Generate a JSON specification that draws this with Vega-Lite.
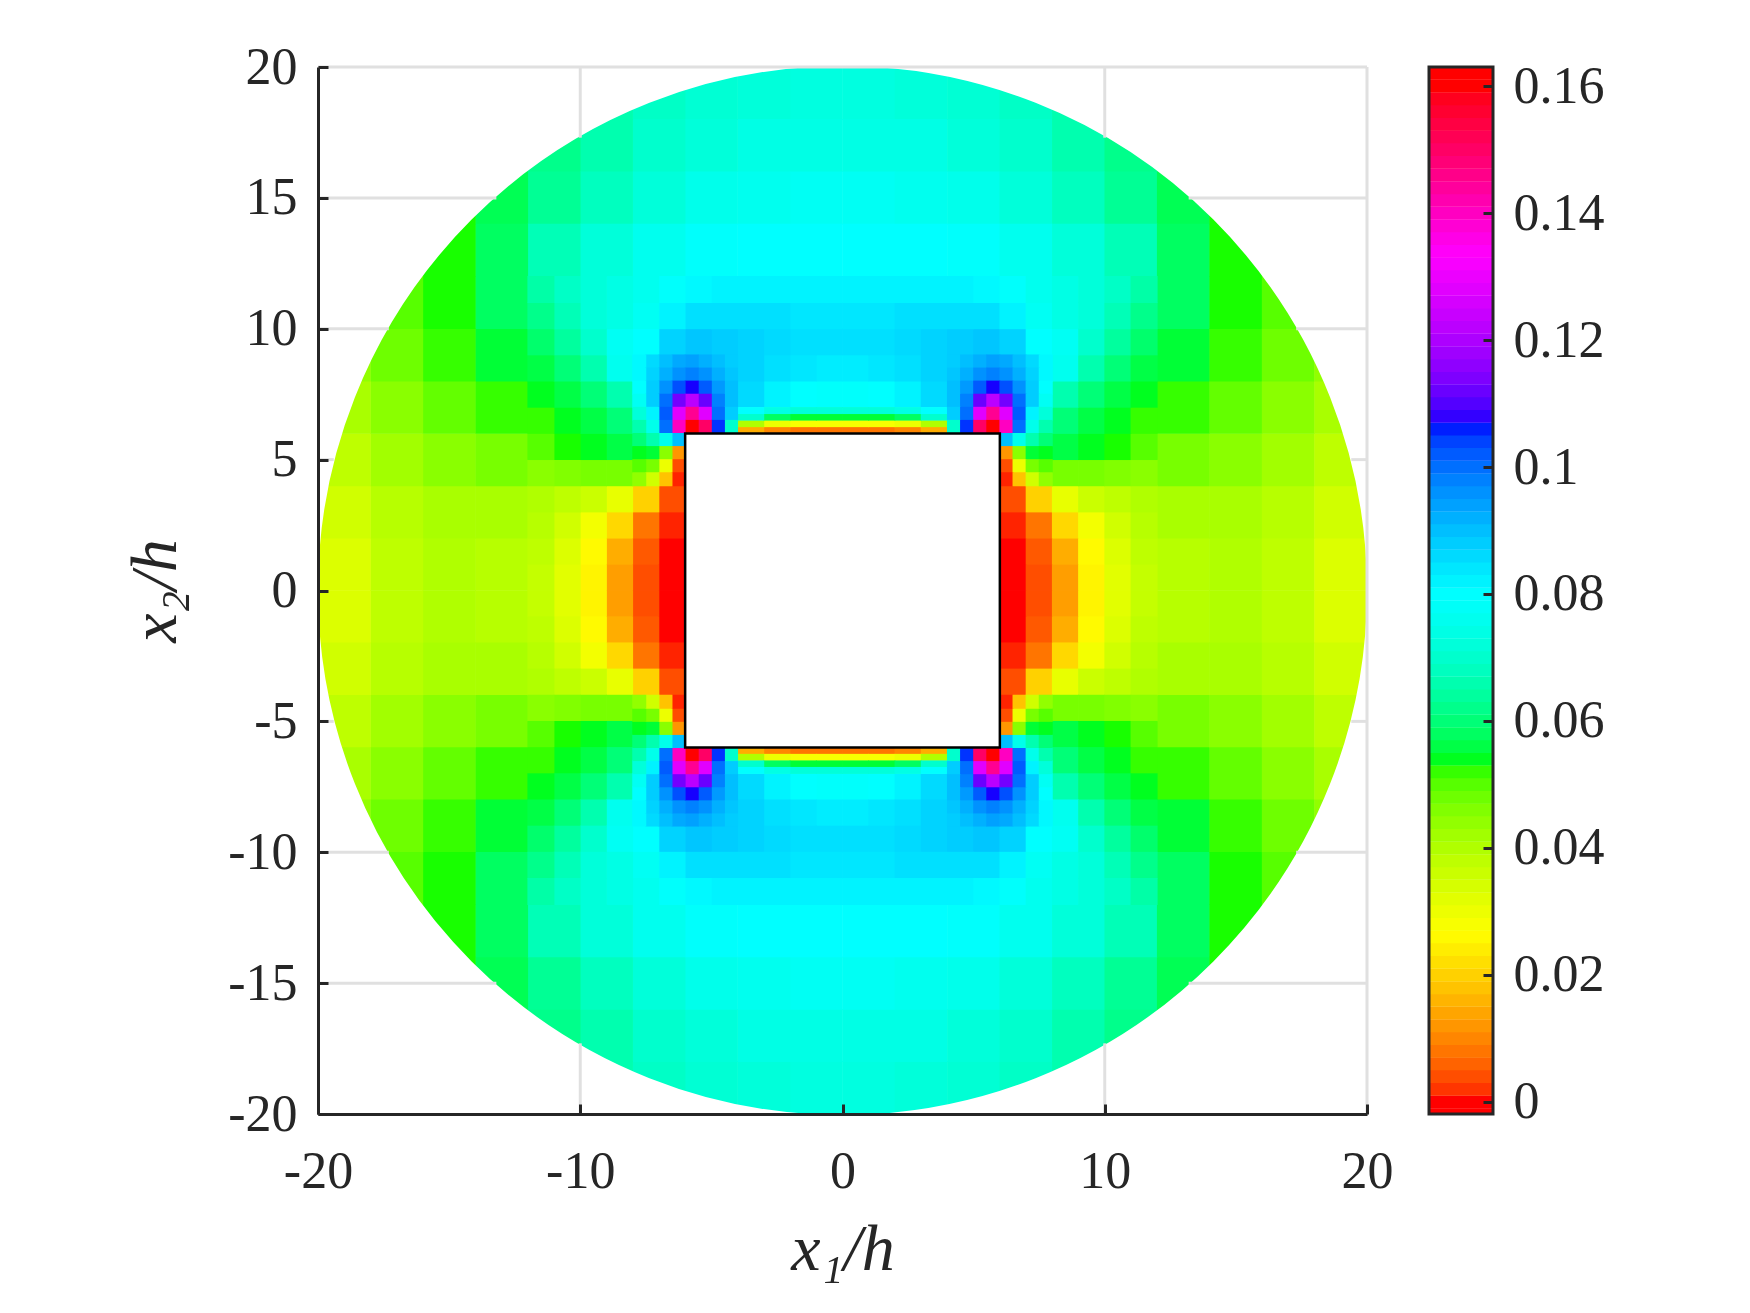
{"$schema":"https://vega.github.io/schema/vega-lite/v6.json","background":"white","padding":{"left":122,"top":40,"right":10,"bottom":10},"bounds":"flush","spacing":62,"config":{"axis":{"labelFont":"Liberation Serif","labelFontSize":52,"labelColor":"#262626","titleFont":"Liberation Serif","titleFontSize":66,"titleFontStyle":"italic","titleFontWeight":"normal","titleColor":"#262626","domainColor":"#262626","domainWidth":3,"tickColor":"#262626","tickWidth":3,"tickSize":-10,"grid":false}},"datasets":{"r":[{"x":0,"y":0}],"s":[{"x":-6,"x2":6,"y":-6,"y2":6}],"k":[{"v":-0.0019,"v2":0.163}],"g":[{"x":-20,"x2":20,"y":20,"y2":20},{"x":20,"x2":20,"y":-20,"y2":20},{"x":-10,"x2":-10,"y":17.3,"y2":20},{"x":-10,"x2":-10,"y":-20,"y2":-17.3},{"x":10,"x2":10,"y":17.3,"y2":20},{"x":10,"x2":10,"y":-20,"y2":-17.3},{"x":-20,"x2":-13.2,"y":15,"y2":15},{"x":13.2,"x2":20,"y":15,"y2":15},{"x":-20,"x2":-13.2,"y":-15,"y2":-15},{"x":13.2,"x2":20,"y":-15,"y2":-15},{"x":-20,"x2":-17.3,"y":10,"y2":10},{"x":17.3,"x2":20,"y":10,"y2":10},{"x":-20,"x2":-17.3,"y":-10,"y2":-10},{"x":17.3,"x2":20,"y":-10,"y2":-10},{"x":-20,"x2":-19.4,"y":5,"y2":5},{"x":19.4,"x2":20,"y":5,"y2":5},{"x":-20,"x2":-19.4,"y":-5,"y2":-5},{"x":19.4,"x2":20,"y":-5,"y2":-5}],
"b":[
{"x":1,"y":19,"v":0.073},{"x":3,"y":19,"v":0.072},{"x":5,"y":19,"v":0.071},{"x":7,"y":19,"v":0.069},{"x":9,"y":19,"v":0.066},{"x":1,"y":17,"v":0.074},{"x":3,"y":17,"v":0.074},{"x":5,"y":17,"v":0.072},{"x":7,"y":17,"v":0.07},{"x":9,"y":17,"v":0.066},{"x":11,"y":17,"v":0.062},{"x":13,"y":17,"v":0.059},{"x":1,"y":15,"v":0.077},{"x":3,"y":15,"v":0.076},{"x":5,"y":15,"v":0.075},{"x":7,"y":15,"v":0.072},{"x":9,"y":15,"v":0.068},{"x":11,"y":15,"v":0.063},{"x":13,"y":15,"v":0.057},{"x":15,"y":15,"v":0.053},{"x":1,"y":13,"v":0.08},{"x":3,"y":13,"v":0.08},{"x":5,"y":13,"v":0.079},{"x":7,"y":13,"v":0.076},{"x":9,"y":13,"v":0.072},{"x":11,"y":13,"v":0.067},{"x":13,"y":13,"v":0.058},{"x":15,"y":13,"v":0.053},{"x":17,"y":13,"v":0.05},{"x":13,"y":1,"v":0.039},{"x":13,"y":3,"v":0.041},{"x":13,"y":5,"v":0.047},{"x":13,"y":7,"v":0.052},{"x":13,"y":9,"v":0.055},{"x":13,"y":11,"v":0.058},{"x":15,"y":1,"v":0.04},{"x":15,"y":3,"v":0.041},{"x":15,"y":5,"v":0.045},{"x":15,"y":7,"v":0.049},{"x":15,"y":9,"v":0.052},{"x":15,"y":11,"v":0.053},{"x":17,"y":1,"v":0.038},{"x":17,"y":3,"v":0.039},{"x":17,"y":5,"v":0.042},{"x":17,"y":7,"v":0.045},{"x":17,"y":9,"v":0.048},{"x":17,"y":11,"v":0.05},{"x":19,"y":1,"v":0.033},{"x":19,"y":3,"v":0.035},{"x":19,"y":5,"v":0.038},{"x":19,"y":7,"v":0.041},{"x":19,"y":9,"v":0.044},
{"x":-1,"y":19,"v":0.073},{"x":-3,"y":19,"v":0.072},{"x":-5,"y":19,"v":0.071},{"x":-7,"y":19,"v":0.069},{"x":-9,"y":19,"v":0.066},{"x":-1,"y":17,"v":0.074},{"x":-3,"y":17,"v":0.074},{"x":-5,"y":17,"v":0.072},{"x":-7,"y":17,"v":0.07},{"x":-9,"y":17,"v":0.066},{"x":-11,"y":17,"v":0.062},{"x":-13,"y":17,"v":0.059},{"x":-1,"y":15,"v":0.077},{"x":-3,"y":15,"v":0.076},{"x":-5,"y":15,"v":0.075},{"x":-7,"y":15,"v":0.072},{"x":-9,"y":15,"v":0.068},{"x":-11,"y":15,"v":0.063},{"x":-13,"y":15,"v":0.057},{"x":-15,"y":15,"v":0.053},{"x":-1,"y":13,"v":0.08},{"x":-3,"y":13,"v":0.08},{"x":-5,"y":13,"v":0.079},{"x":-7,"y":13,"v":0.076},{"x":-9,"y":13,"v":0.072},{"x":-11,"y":13,"v":0.067},{"x":-13,"y":13,"v":0.058},{"x":-15,"y":13,"v":0.053},{"x":-17,"y":13,"v":0.05},{"x":-13,"y":1,"v":0.039},{"x":-13,"y":3,"v":0.041},{"x":-13,"y":5,"v":0.047},{"x":-13,"y":7,"v":0.052},{"x":-13,"y":9,"v":0.055},{"x":-13,"y":11,"v":0.058},{"x":-15,"y":1,"v":0.04},{"x":-15,"y":3,"v":0.041},{"x":-15,"y":5,"v":0.045},{"x":-15,"y":7,"v":0.049},{"x":-15,"y":9,"v":0.052},{"x":-15,"y":11,"v":0.053},{"x":-17,"y":1,"v":0.038},{"x":-17,"y":3,"v":0.039},{"x":-17,"y":5,"v":0.042},{"x":-17,"y":7,"v":0.045},{"x":-17,"y":9,"v":0.048},{"x":-17,"y":11,"v":0.05},{"x":-19,"y":1,"v":0.033},{"x":-19,"y":3,"v":0.035},{"x":-19,"y":5,"v":0.038},{"x":-19,"y":7,"v":0.041},{"x":-19,"y":9,"v":0.044},
{"x":1,"y":-19,"v":0.073},{"x":3,"y":-19,"v":0.072},{"x":5,"y":-19,"v":0.071},{"x":7,"y":-19,"v":0.069},{"x":9,"y":-19,"v":0.066},{"x":1,"y":-17,"v":0.074},{"x":3,"y":-17,"v":0.074},{"x":5,"y":-17,"v":0.072},{"x":7,"y":-17,"v":0.07},{"x":9,"y":-17,"v":0.066},{"x":11,"y":-17,"v":0.062},{"x":13,"y":-17,"v":0.059},{"x":1,"y":-15,"v":0.077},{"x":3,"y":-15,"v":0.076},{"x":5,"y":-15,"v":0.075},{"x":7,"y":-15,"v":0.072},{"x":9,"y":-15,"v":0.068},{"x":11,"y":-15,"v":0.063},{"x":13,"y":-15,"v":0.057},{"x":15,"y":-15,"v":0.053},{"x":1,"y":-13,"v":0.08},{"x":3,"y":-13,"v":0.08},{"x":5,"y":-13,"v":0.079},{"x":7,"y":-13,"v":0.076},{"x":9,"y":-13,"v":0.072},{"x":11,"y":-13,"v":0.067},{"x":13,"y":-13,"v":0.058},{"x":15,"y":-13,"v":0.053},{"x":17,"y":-13,"v":0.05},{"x":13,"y":-1,"v":0.039},{"x":13,"y":-3,"v":0.041},{"x":13,"y":-5,"v":0.047},{"x":13,"y":-7,"v":0.052},{"x":13,"y":-9,"v":0.055},{"x":13,"y":-11,"v":0.058},{"x":15,"y":-1,"v":0.04},{"x":15,"y":-3,"v":0.041},{"x":15,"y":-5,"v":0.045},{"x":15,"y":-7,"v":0.049},{"x":15,"y":-9,"v":0.052},{"x":15,"y":-11,"v":0.053},{"x":17,"y":-1,"v":0.038},{"x":17,"y":-3,"v":0.039},{"x":17,"y":-5,"v":0.042},{"x":17,"y":-7,"v":0.045},{"x":17,"y":-9,"v":0.048},{"x":17,"y":-11,"v":0.05},{"x":19,"y":-1,"v":0.033},{"x":19,"y":-3,"v":0.035},{"x":19,"y":-5,"v":0.038},{"x":19,"y":-7,"v":0.041},{"x":19,"y":-9,"v":0.044},
{"x":-1,"y":-19,"v":0.073},{"x":-3,"y":-19,"v":0.072},{"x":-5,"y":-19,"v":0.071},{"x":-7,"y":-19,"v":0.069},{"x":-9,"y":-19,"v":0.066},{"x":-1,"y":-17,"v":0.074},{"x":-3,"y":-17,"v":0.074},{"x":-5,"y":-17,"v":0.072},{"x":-7,"y":-17,"v":0.07},{"x":-9,"y":-17,"v":0.066},{"x":-11,"y":-17,"v":0.062},{"x":-13,"y":-17,"v":0.059},{"x":-1,"y":-15,"v":0.077},{"x":-3,"y":-15,"v":0.076},{"x":-5,"y":-15,"v":0.075},{"x":-7,"y":-15,"v":0.072},{"x":-9,"y":-15,"v":0.068},{"x":-11,"y":-15,"v":0.063},{"x":-13,"y":-15,"v":0.057},{"x":-15,"y":-15,"v":0.053},{"x":-1,"y":-13,"v":0.08},{"x":-3,"y":-13,"v":0.08},{"x":-5,"y":-13,"v":0.079},{"x":-7,"y":-13,"v":0.076},{"x":-9,"y":-13,"v":0.072},{"x":-11,"y":-13,"v":0.067},{"x":-13,"y":-13,"v":0.058},{"x":-15,"y":-13,"v":0.053},{"x":-17,"y":-13,"v":0.05},{"x":-13,"y":-1,"v":0.039},{"x":-13,"y":-3,"v":0.041},{"x":-13,"y":-5,"v":0.047},{"x":-13,"y":-7,"v":0.052},{"x":-13,"y":-9,"v":0.055},{"x":-13,"y":-11,"v":0.058},{"x":-15,"y":-1,"v":0.04},{"x":-15,"y":-3,"v":0.041},{"x":-15,"y":-5,"v":0.045},{"x":-15,"y":-7,"v":0.049},{"x":-15,"y":-9,"v":0.052},{"x":-15,"y":-11,"v":0.053},{"x":-17,"y":-1,"v":0.038},{"x":-17,"y":-3,"v":0.039},{"x":-17,"y":-5,"v":0.042},{"x":-17,"y":-7,"v":0.045},{"x":-17,"y":-9,"v":0.048},{"x":-17,"y":-11,"v":0.05},{"x":-19,"y":-1,"v":0.033},{"x":-19,"y":-3,"v":0.035},{"x":-19,"y":-5,"v":0.038},{"x":-19,"y":-7,"v":0.041},{"x":-19,"y":-9,"v":0.044}],
"a":[
{"x":6.5,"y":0.5,"v":0},{"x":7.5,"y":0.5,"v":0.004},{"x":8.5,"y":0.5,"v":0.013},{"x":9.5,"y":0.5,"v":0.025},{"x":10.5,"y":0.5,"v":0.032},{"x":11.5,"y":0.5,"v":0.037},{"x":6.5,"y":1.5,"v":0},{"x":7.5,"y":1.5,"v":0.005},{"x":8.5,"y":1.5,"v":0.015},{"x":9.5,"y":1.5,"v":0.026},{"x":10.5,"y":1.5,"v":0.033},{"x":11.5,"y":1.5,"v":0.038},{"x":6.5,"y":2.5,"v":0.001},{"x":7.5,"y":2.5,"v":0.008},{"x":8.5,"y":2.5,"v":0.021},{"x":9.5,"y":2.5,"v":0.029},{"x":10.5,"y":2.5,"v":0.035},{"x":11.5,"y":2.5,"v":0.039},{"x":6.5,"y":3.5,"v":0.004},{"x":7.5,"y":3.5,"v":0.02},{"x":8.5,"y":3.5,"v":0.031},{"x":9.5,"y":3.5,"v":0.036},{"x":10.5,"y":3.5,"v":0.038},{"x":11.5,"y":3.5,"v":0.04},{"x":8.5,"y":4.5,"v":0.047},{"x":9.5,"y":4.5,"v":0.047},{"x":10.5,"y":4.5,"v":0.046},{"x":11.5,"y":4.5,"v":0.045},{"x":8.5,"y":5.5,"v":0.056},{"x":9.5,"y":5.5,"v":0.054},{"x":10.5,"y":5.5,"v":0.053},{"x":11.5,"y":5.5,"v":0.05},{"x":8.5,"y":6.5,"v":0.06},{"x":9.5,"y":6.5,"v":0.056},{"x":10.5,"y":6.5,"v":0.054},{"x":11.5,"y":6.5,"v":0.052},{"x":0.5,"y":7.5,"v":0.079},{"x":1.5,"y":7.5,"v":0.08},{"x":2.5,"y":7.5,"v":0.082},{"x":3.5,"y":7.5,"v":0.086},{"x":8.5,"y":7.5,"v":0.066},{"x":9.5,"y":7.5,"v":0.06},{"x":10.5,"y":7.5,"v":0.056},{"x":11.5,"y":7.5,"v":0.054},{"x":0.5,"y":8.5,"v":0.083},{"x":1.5,"y":8.5,"v":0.084},{"x":2.5,"y":8.5,"v":0.085},{"x":3.5,"y":8.5,"v":0.087},{"x":8.5,"y":8.5,"v":0.076},{"x":9.5,"y":8.5,"v":0.066},{"x":10.5,"y":8.5,"v":0.06},{"x":11.5,"y":8.5,"v":0.056},{"x":0.5,"y":9.5,"v":0.085},{"x":1.5,"y":9.5,"v":0.085},{"x":2.5,"y":9.5,"v":0.086},{"x":3.5,"y":9.5,"v":0.087},{"x":4.5,"y":9.5,"v":0.088},{"x":5.5,"y":9.5,"v":0.089},{"x":6.5,"y":9.5,"v":0.087},{"x":7.5,"y":9.5,"v":0.08},{"x":8.5,"y":9.5,"v":0.077},{"x":9.5,"y":9.5,"v":0.07},{"x":10.5,"y":9.5,"v":0.064},{"x":11.5,"y":9.5,"v":0.059},{"x":0.5,"y":10.5,"v":0.084},{"x":1.5,"y":10.5,"v":0.084},{"x":2.5,"y":10.5,"v":0.085},{"x":3.5,"y":10.5,"v":0.085},{"x":4.5,"y":10.5,"v":0.085},{"x":5.5,"y":10.5,"v":0.085},{"x":6.5,"y":10.5,"v":0.082},{"x":7.5,"y":10.5,"v":0.077},{"x":8.5,"y":10.5,"v":0.074},{"x":9.5,"y":10.5,"v":0.072},{"x":10.5,"y":10.5,"v":0.067},{"x":11.5,"y":10.5,"v":0.062},{"x":0.5,"y":11.5,"v":0.082},{"x":1.5,"y":11.5,"v":0.082},{"x":2.5,"y":11.5,"v":0.082},{"x":3.5,"y":11.5,"v":0.082},{"x":4.5,"y":11.5,"v":0.082},{"x":5.5,"y":11.5,"v":0.081},{"x":6.5,"y":11.5,"v":0.079},{"x":7.5,"y":11.5,"v":0.076},{"x":8.5,"y":11.5,"v":0.074},{"x":9.5,"y":11.5,"v":0.072},{"x":10.5,"y":11.5,"v":0.069},{"x":11.5,"y":11.5,"v":0.065},
{"x":-6.5,"y":0.5,"v":0},{"x":-7.5,"y":0.5,"v":0.004},{"x":-8.5,"y":0.5,"v":0.013},{"x":-9.5,"y":0.5,"v":0.025},{"x":-10.5,"y":0.5,"v":0.032},{"x":-11.5,"y":0.5,"v":0.037},{"x":-6.5,"y":1.5,"v":0},{"x":-7.5,"y":1.5,"v":0.005},{"x":-8.5,"y":1.5,"v":0.015},{"x":-9.5,"y":1.5,"v":0.026},{"x":-10.5,"y":1.5,"v":0.033},{"x":-11.5,"y":1.5,"v":0.038},{"x":-6.5,"y":2.5,"v":0.001},{"x":-7.5,"y":2.5,"v":0.008},{"x":-8.5,"y":2.5,"v":0.021},{"x":-9.5,"y":2.5,"v":0.029},{"x":-10.5,"y":2.5,"v":0.035},{"x":-11.5,"y":2.5,"v":0.039},{"x":-6.5,"y":3.5,"v":0.004},{"x":-7.5,"y":3.5,"v":0.02},{"x":-8.5,"y":3.5,"v":0.031},{"x":-9.5,"y":3.5,"v":0.036},{"x":-10.5,"y":3.5,"v":0.038},{"x":-11.5,"y":3.5,"v":0.04},{"x":-8.5,"y":4.5,"v":0.047},{"x":-9.5,"y":4.5,"v":0.047},{"x":-10.5,"y":4.5,"v":0.046},{"x":-11.5,"y":4.5,"v":0.045},{"x":-8.5,"y":5.5,"v":0.056},{"x":-9.5,"y":5.5,"v":0.054},{"x":-10.5,"y":5.5,"v":0.053},{"x":-11.5,"y":5.5,"v":0.05},{"x":-8.5,"y":6.5,"v":0.06},{"x":-9.5,"y":6.5,"v":0.056},{"x":-10.5,"y":6.5,"v":0.054},{"x":-11.5,"y":6.5,"v":0.052},{"x":-0.5,"y":7.5,"v":0.079},{"x":-1.5,"y":7.5,"v":0.08},{"x":-2.5,"y":7.5,"v":0.082},{"x":-3.5,"y":7.5,"v":0.086},{"x":-8.5,"y":7.5,"v":0.066},{"x":-9.5,"y":7.5,"v":0.06},{"x":-10.5,"y":7.5,"v":0.056},{"x":-11.5,"y":7.5,"v":0.054},{"x":-0.5,"y":8.5,"v":0.083},{"x":-1.5,"y":8.5,"v":0.084},{"x":-2.5,"y":8.5,"v":0.085},{"x":-3.5,"y":8.5,"v":0.087},{"x":-8.5,"y":8.5,"v":0.076},{"x":-9.5,"y":8.5,"v":0.066},{"x":-10.5,"y":8.5,"v":0.06},{"x":-11.5,"y":8.5,"v":0.056},{"x":-0.5,"y":9.5,"v":0.085},{"x":-1.5,"y":9.5,"v":0.085},{"x":-2.5,"y":9.5,"v":0.086},{"x":-3.5,"y":9.5,"v":0.087},{"x":-4.5,"y":9.5,"v":0.088},{"x":-5.5,"y":9.5,"v":0.089},{"x":-6.5,"y":9.5,"v":0.087},{"x":-7.5,"y":9.5,"v":0.08},{"x":-8.5,"y":9.5,"v":0.077},{"x":-9.5,"y":9.5,"v":0.07},{"x":-10.5,"y":9.5,"v":0.064},{"x":-11.5,"y":9.5,"v":0.059},{"x":-0.5,"y":10.5,"v":0.084},{"x":-1.5,"y":10.5,"v":0.084},{"x":-2.5,"y":10.5,"v":0.085},{"x":-3.5,"y":10.5,"v":0.085},{"x":-4.5,"y":10.5,"v":0.085},{"x":-5.5,"y":10.5,"v":0.085},{"x":-6.5,"y":10.5,"v":0.082},{"x":-7.5,"y":10.5,"v":0.077},{"x":-8.5,"y":10.5,"v":0.074},{"x":-9.5,"y":10.5,"v":0.072},{"x":-10.5,"y":10.5,"v":0.067},{"x":-11.5,"y":10.5,"v":0.062},{"x":-0.5,"y":11.5,"v":0.082},{"x":-1.5,"y":11.5,"v":0.082},{"x":-2.5,"y":11.5,"v":0.082},{"x":-3.5,"y":11.5,"v":0.082},{"x":-4.5,"y":11.5,"v":0.082},{"x":-5.5,"y":11.5,"v":0.081},{"x":-6.5,"y":11.5,"v":0.079},{"x":-7.5,"y":11.5,"v":0.076},{"x":-8.5,"y":11.5,"v":0.074},{"x":-9.5,"y":11.5,"v":0.072},{"x":-10.5,"y":11.5,"v":0.069},{"x":-11.5,"y":11.5,"v":0.065},
{"x":6.5,"y":-0.5,"v":0},{"x":7.5,"y":-0.5,"v":0.004},{"x":8.5,"y":-0.5,"v":0.013},{"x":9.5,"y":-0.5,"v":0.025},{"x":10.5,"y":-0.5,"v":0.032},{"x":11.5,"y":-0.5,"v":0.037},{"x":6.5,"y":-1.5,"v":0},{"x":7.5,"y":-1.5,"v":0.005},{"x":8.5,"y":-1.5,"v":0.015},{"x":9.5,"y":-1.5,"v":0.026},{"x":10.5,"y":-1.5,"v":0.033},{"x":11.5,"y":-1.5,"v":0.038},{"x":6.5,"y":-2.5,"v":0.001},{"x":7.5,"y":-2.5,"v":0.008},{"x":8.5,"y":-2.5,"v":0.021},{"x":9.5,"y":-2.5,"v":0.029},{"x":10.5,"y":-2.5,"v":0.035},{"x":11.5,"y":-2.5,"v":0.039},{"x":6.5,"y":-3.5,"v":0.004},{"x":7.5,"y":-3.5,"v":0.02},{"x":8.5,"y":-3.5,"v":0.031},{"x":9.5,"y":-3.5,"v":0.036},{"x":10.5,"y":-3.5,"v":0.038},{"x":11.5,"y":-3.5,"v":0.04},{"x":8.5,"y":-4.5,"v":0.047},{"x":9.5,"y":-4.5,"v":0.047},{"x":10.5,"y":-4.5,"v":0.046},{"x":11.5,"y":-4.5,"v":0.045},{"x":8.5,"y":-5.5,"v":0.056},{"x":9.5,"y":-5.5,"v":0.054},{"x":10.5,"y":-5.5,"v":0.053},{"x":11.5,"y":-5.5,"v":0.05},{"x":8.5,"y":-6.5,"v":0.06},{"x":9.5,"y":-6.5,"v":0.056},{"x":10.5,"y":-6.5,"v":0.054},{"x":11.5,"y":-6.5,"v":0.052},{"x":0.5,"y":-7.5,"v":0.079},{"x":1.5,"y":-7.5,"v":0.08},{"x":2.5,"y":-7.5,"v":0.082},{"x":3.5,"y":-7.5,"v":0.086},{"x":8.5,"y":-7.5,"v":0.066},{"x":9.5,"y":-7.5,"v":0.06},{"x":10.5,"y":-7.5,"v":0.056},{"x":11.5,"y":-7.5,"v":0.054},{"x":0.5,"y":-8.5,"v":0.083},{"x":1.5,"y":-8.5,"v":0.084},{"x":2.5,"y":-8.5,"v":0.085},{"x":3.5,"y":-8.5,"v":0.087},{"x":8.5,"y":-8.5,"v":0.076},{"x":9.5,"y":-8.5,"v":0.066},{"x":10.5,"y":-8.5,"v":0.06},{"x":11.5,"y":-8.5,"v":0.056},{"x":0.5,"y":-9.5,"v":0.085},{"x":1.5,"y":-9.5,"v":0.085},{"x":2.5,"y":-9.5,"v":0.086},{"x":3.5,"y":-9.5,"v":0.087},{"x":4.5,"y":-9.5,"v":0.088},{"x":5.5,"y":-9.5,"v":0.089},{"x":6.5,"y":-9.5,"v":0.087},{"x":7.5,"y":-9.5,"v":0.08},{"x":8.5,"y":-9.5,"v":0.077},{"x":9.5,"y":-9.5,"v":0.07},{"x":10.5,"y":-9.5,"v":0.064},{"x":11.5,"y":-9.5,"v":0.059},{"x":0.5,"y":-10.5,"v":0.084},{"x":1.5,"y":-10.5,"v":0.084},{"x":2.5,"y":-10.5,"v":0.085},{"x":3.5,"y":-10.5,"v":0.085},{"x":4.5,"y":-10.5,"v":0.085},{"x":5.5,"y":-10.5,"v":0.085},{"x":6.5,"y":-10.5,"v":0.082},{"x":7.5,"y":-10.5,"v":0.077},{"x":8.5,"y":-10.5,"v":0.074},{"x":9.5,"y":-10.5,"v":0.072},{"x":10.5,"y":-10.5,"v":0.067},{"x":11.5,"y":-10.5,"v":0.062},{"x":0.5,"y":-11.5,"v":0.082},{"x":1.5,"y":-11.5,"v":0.082},{"x":2.5,"y":-11.5,"v":0.082},{"x":3.5,"y":-11.5,"v":0.082},{"x":4.5,"y":-11.5,"v":0.082},{"x":5.5,"y":-11.5,"v":0.081},{"x":6.5,"y":-11.5,"v":0.079},{"x":7.5,"y":-11.5,"v":0.076},{"x":8.5,"y":-11.5,"v":0.074},{"x":9.5,"y":-11.5,"v":0.072},{"x":10.5,"y":-11.5,"v":0.069},{"x":11.5,"y":-11.5,"v":0.065},
{"x":-6.5,"y":-0.5,"v":0},{"x":-7.5,"y":-0.5,"v":0.004},{"x":-8.5,"y":-0.5,"v":0.013},{"x":-9.5,"y":-0.5,"v":0.025},{"x":-10.5,"y":-0.5,"v":0.032},{"x":-11.5,"y":-0.5,"v":0.037},{"x":-6.5,"y":-1.5,"v":0},{"x":-7.5,"y":-1.5,"v":0.005},{"x":-8.5,"y":-1.5,"v":0.015},{"x":-9.5,"y":-1.5,"v":0.026},{"x":-10.5,"y":-1.5,"v":0.033},{"x":-11.5,"y":-1.5,"v":0.038},{"x":-6.5,"y":-2.5,"v":0.001},{"x":-7.5,"y":-2.5,"v":0.008},{"x":-8.5,"y":-2.5,"v":0.021},{"x":-9.5,"y":-2.5,"v":0.029},{"x":-10.5,"y":-2.5,"v":0.035},{"x":-11.5,"y":-2.5,"v":0.039},{"x":-6.5,"y":-3.5,"v":0.004},{"x":-7.5,"y":-3.5,"v":0.02},{"x":-8.5,"y":-3.5,"v":0.031},{"x":-9.5,"y":-3.5,"v":0.036},{"x":-10.5,"y":-3.5,"v":0.038},{"x":-11.5,"y":-3.5,"v":0.04},{"x":-8.5,"y":-4.5,"v":0.047},{"x":-9.5,"y":-4.5,"v":0.047},{"x":-10.5,"y":-4.5,"v":0.046},{"x":-11.5,"y":-4.5,"v":0.045},{"x":-8.5,"y":-5.5,"v":0.056},{"x":-9.5,"y":-5.5,"v":0.054},{"x":-10.5,"y":-5.5,"v":0.053},{"x":-11.5,"y":-5.5,"v":0.05},{"x":-8.5,"y":-6.5,"v":0.06},{"x":-9.5,"y":-6.5,"v":0.056},{"x":-10.5,"y":-6.5,"v":0.054},{"x":-11.5,"y":-6.5,"v":0.052},{"x":-0.5,"y":-7.5,"v":0.079},{"x":-1.5,"y":-7.5,"v":0.08},{"x":-2.5,"y":-7.5,"v":0.082},{"x":-3.5,"y":-7.5,"v":0.086},{"x":-8.5,"y":-7.5,"v":0.066},{"x":-9.5,"y":-7.5,"v":0.06},{"x":-10.5,"y":-7.5,"v":0.056},{"x":-11.5,"y":-7.5,"v":0.054},{"x":-0.5,"y":-8.5,"v":0.083},{"x":-1.5,"y":-8.5,"v":0.084},{"x":-2.5,"y":-8.5,"v":0.085},{"x":-3.5,"y":-8.5,"v":0.087},{"x":-8.5,"y":-8.5,"v":0.076},{"x":-9.5,"y":-8.5,"v":0.066},{"x":-10.5,"y":-8.5,"v":0.06},{"x":-11.5,"y":-8.5,"v":0.056},{"x":-0.5,"y":-9.5,"v":0.085},{"x":-1.5,"y":-9.5,"v":0.085},{"x":-2.5,"y":-9.5,"v":0.086},{"x":-3.5,"y":-9.5,"v":0.087},{"x":-4.5,"y":-9.5,"v":0.088},{"x":-5.5,"y":-9.5,"v":0.089},{"x":-6.5,"y":-9.5,"v":0.087},{"x":-7.5,"y":-9.5,"v":0.08},{"x":-8.5,"y":-9.5,"v":0.077},{"x":-9.5,"y":-9.5,"v":0.07},{"x":-10.5,"y":-9.5,"v":0.064},{"x":-11.5,"y":-9.5,"v":0.059},{"x":-0.5,"y":-10.5,"v":0.084},{"x":-1.5,"y":-10.5,"v":0.084},{"x":-2.5,"y":-10.5,"v":0.085},{"x":-3.5,"y":-10.5,"v":0.085},{"x":-4.5,"y":-10.5,"v":0.085},{"x":-5.5,"y":-10.5,"v":0.085},{"x":-6.5,"y":-10.5,"v":0.082},{"x":-7.5,"y":-10.5,"v":0.077},{"x":-8.5,"y":-10.5,"v":0.074},{"x":-9.5,"y":-10.5,"v":0.072},{"x":-10.5,"y":-10.5,"v":0.067},{"x":-11.5,"y":-10.5,"v":0.062},{"x":-0.5,"y":-11.5,"v":0.082},{"x":-1.5,"y":-11.5,"v":0.082},{"x":-2.5,"y":-11.5,"v":0.082},{"x":-3.5,"y":-11.5,"v":0.082},{"x":-4.5,"y":-11.5,"v":0.082},{"x":-5.5,"y":-11.5,"v":0.081},{"x":-6.5,"y":-11.5,"v":0.079},{"x":-7.5,"y":-11.5,"v":0.076},{"x":-8.5,"y":-11.5,"v":0.074},{"x":-9.5,"y":-11.5,"v":0.072},{"x":-10.5,"y":-11.5,"v":0.069},{"x":-11.5,"y":-11.5,"v":0.065}],
"d":[
{"x":0.5,"y":6.125,"v":0.008},{"x":1.5,"y":6.125,"v":0.008},{"x":2.5,"y":6.125,"v":0.01},{"x":3.5,"y":6.125,"v":0.015},{"x":0.5,"y":6.375,"v":0.028},{"x":1.5,"y":6.375,"v":0.028},{"x":2.5,"y":6.375,"v":0.03},{"x":3.5,"y":6.375,"v":0.04},{"x":0.5,"y":6.625,"v":0.055},{"x":1.5,"y":6.625,"v":0.055},{"x":2.5,"y":6.625,"v":0.058},{"x":3.5,"y":6.625,"v":0.07},{"x":0.5,"y":6.875,"v":0.072},{"x":1.5,"y":6.875,"v":0.072},{"x":2.5,"y":6.875,"v":0.074},{"x":3.5,"y":6.875,"v":0.08},
{"x":-0.5,"y":6.125,"v":0.008},{"x":-1.5,"y":6.125,"v":0.008},{"x":-2.5,"y":6.125,"v":0.01},{"x":-3.5,"y":6.125,"v":0.015},{"x":-0.5,"y":6.375,"v":0.028},{"x":-1.5,"y":6.375,"v":0.028},{"x":-2.5,"y":6.375,"v":0.03},{"x":-3.5,"y":6.375,"v":0.04},{"x":-0.5,"y":6.625,"v":0.055},{"x":-1.5,"y":6.625,"v":0.055},{"x":-2.5,"y":6.625,"v":0.058},{"x":-3.5,"y":6.625,"v":0.07},{"x":-0.5,"y":6.875,"v":0.072},{"x":-1.5,"y":6.875,"v":0.072},{"x":-2.5,"y":6.875,"v":0.074},{"x":-3.5,"y":6.875,"v":0.08},
{"x":0.5,"y":-6.125,"v":0.008},{"x":1.5,"y":-6.125,"v":0.008},{"x":2.5,"y":-6.125,"v":0.01},{"x":3.5,"y":-6.125,"v":0.015},{"x":0.5,"y":-6.375,"v":0.028},{"x":1.5,"y":-6.375,"v":0.028},{"x":2.5,"y":-6.375,"v":0.03},{"x":3.5,"y":-6.375,"v":0.04},{"x":0.5,"y":-6.625,"v":0.055},{"x":1.5,"y":-6.625,"v":0.055},{"x":2.5,"y":-6.625,"v":0.058},{"x":3.5,"y":-6.625,"v":0.07},{"x":0.5,"y":-6.875,"v":0.072},{"x":1.5,"y":-6.875,"v":0.072},{"x":2.5,"y":-6.875,"v":0.074},{"x":3.5,"y":-6.875,"v":0.08},
{"x":-0.5,"y":-6.125,"v":0.008},{"x":-1.5,"y":-6.125,"v":0.008},{"x":-2.5,"y":-6.125,"v":0.01},{"x":-3.5,"y":-6.125,"v":0.015},{"x":-0.5,"y":-6.375,"v":0.028},{"x":-1.5,"y":-6.375,"v":0.028},{"x":-2.5,"y":-6.375,"v":0.03},{"x":-3.5,"y":-6.375,"v":0.04},{"x":-0.5,"y":-6.625,"v":0.055},{"x":-1.5,"y":-6.625,"v":0.055},{"x":-2.5,"y":-6.625,"v":0.058},{"x":-3.5,"y":-6.625,"v":0.07},{"x":-0.5,"y":-6.875,"v":0.072},{"x":-1.5,"y":-6.875,"v":0.072},{"x":-2.5,"y":-6.875,"v":0.074},{"x":-3.5,"y":-6.875,"v":0.08}],
"f":[
{"x":4.25,"y":8.75,"v":0.088},{"x":4.75,"y":8.75,"v":0.09},{"x":5.25,"y":8.75,"v":0.092},{"x":5.75,"y":8.75,"v":0.094},{"x":6.25,"y":8.75,"v":0.093},{"x":6.75,"y":8.75,"v":0.09},{"x":7.25,"y":8.75,"v":0.086},{"x":7.75,"y":8.75,"v":0.081},{"x":4.25,"y":8.25,"v":0.089},{"x":4.75,"y":8.25,"v":0.092},{"x":5.25,"y":8.25,"v":0.096},{"x":5.75,"y":8.25,"v":0.098},{"x":6.25,"y":8.25,"v":0.096},{"x":6.75,"y":8.25,"v":0.092},{"x":7.25,"y":8.25,"v":0.087},{"x":7.75,"y":8.25,"v":0.081},{"x":4.25,"y":7.75,"v":0.09},{"x":4.75,"y":7.75,"v":0.095},{"x":5.25,"y":7.75,"v":0.102},{"x":5.75,"y":7.75,"v":0.107},{"x":6.25,"y":7.75,"v":0.103},{"x":6.75,"y":7.75,"v":0.096},{"x":7.25,"y":7.75,"v":0.088},{"x":7.75,"y":7.75,"v":0.08},{"x":4.25,"y":7.25,"v":0.09},{"x":4.75,"y":7.25,"v":0.098},{"x":5.25,"y":7.25,"v":0.112},{"x":5.75,"y":7.25,"v":0.122},{"x":6.25,"y":7.25,"v":0.113},{"x":6.75,"y":7.25,"v":0.1},{"x":7.25,"y":7.25,"v":0.088},{"x":7.75,"y":7.25,"v":0.077},{"x":4.25,"y":6.75,"v":0.088},{"x":4.75,"y":6.75,"v":0.1},{"x":5.25,"y":6.75,"v":0.128},{"x":5.75,"y":6.75,"v":0.145},{"x":6.25,"y":6.75,"v":0.128},{"x":6.75,"y":6.75,"v":0.102},{"x":7.25,"y":6.75,"v":0.082},{"x":7.75,"y":6.75,"v":0.072},{"x":4.25,"y":6.25,"v":0.07},{"x":4.75,"y":6.25,"v":0.105},{"x":5.25,"y":6.25,"v":0.15},{"x":5.75,"y":6.25,"v":0.16},{"x":6.25,"y":6.25,"v":0.14},{"x":6.75,"y":6.25,"v":0.1},{"x":7.25,"y":6.25,"v":0.075},{"x":7.75,"y":6.25,"v":0.066},{"x":6.25,"y":5.75,"v":0.09},{"x":6.75,"y":5.75,"v":0.075},{"x":7.25,"y":5.75,"v":0.066},{"x":7.75,"y":5.75,"v":0.06},{"x":6.25,"y":5.25,"v":0.012},{"x":6.75,"y":5.25,"v":0.045},{"x":7.25,"y":5.25,"v":0.055},{"x":7.75,"y":5.25,"v":0.054},{"x":6.25,"y":4.75,"v":0.004},{"x":6.75,"y":4.75,"v":0.03},{"x":7.25,"y":4.75,"v":0.047},{"x":7.75,"y":4.75,"v":0.05},{"x":6.25,"y":4.25,"v":0.001},{"x":6.75,"y":4.25,"v":0.018},{"x":7.25,"y":4.25,"v":0.035},{"x":7.75,"y":4.25,"v":0.044},
{"x":-4.25,"y":8.75,"v":0.088},{"x":-4.75,"y":8.75,"v":0.09},{"x":-5.25,"y":8.75,"v":0.092},{"x":-5.75,"y":8.75,"v":0.094},{"x":-6.25,"y":8.75,"v":0.093},{"x":-6.75,"y":8.75,"v":0.09},{"x":-7.25,"y":8.75,"v":0.086},{"x":-7.75,"y":8.75,"v":0.081},{"x":-4.25,"y":8.25,"v":0.089},{"x":-4.75,"y":8.25,"v":0.092},{"x":-5.25,"y":8.25,"v":0.096},{"x":-5.75,"y":8.25,"v":0.098},{"x":-6.25,"y":8.25,"v":0.096},{"x":-6.75,"y":8.25,"v":0.092},{"x":-7.25,"y":8.25,"v":0.087},{"x":-7.75,"y":8.25,"v":0.081},{"x":-4.25,"y":7.75,"v":0.09},{"x":-4.75,"y":7.75,"v":0.095},{"x":-5.25,"y":7.75,"v":0.102},{"x":-5.75,"y":7.75,"v":0.107},{"x":-6.25,"y":7.75,"v":0.103},{"x":-6.75,"y":7.75,"v":0.096},{"x":-7.25,"y":7.75,"v":0.088},{"x":-7.75,"y":7.75,"v":0.08},{"x":-4.25,"y":7.25,"v":0.09},{"x":-4.75,"y":7.25,"v":0.098},{"x":-5.25,"y":7.25,"v":0.112},{"x":-5.75,"y":7.25,"v":0.122},{"x":-6.25,"y":7.25,"v":0.113},{"x":-6.75,"y":7.25,"v":0.1},{"x":-7.25,"y":7.25,"v":0.088},{"x":-7.75,"y":7.25,"v":0.077},{"x":-4.25,"y":6.75,"v":0.088},{"x":-4.75,"y":6.75,"v":0.1},{"x":-5.25,"y":6.75,"v":0.128},{"x":-5.75,"y":6.75,"v":0.145},{"x":-6.25,"y":6.75,"v":0.128},{"x":-6.75,"y":6.75,"v":0.102},{"x":-7.25,"y":6.75,"v":0.082},{"x":-7.75,"y":6.75,"v":0.072},{"x":-4.25,"y":6.25,"v":0.07},{"x":-4.75,"y":6.25,"v":0.105},{"x":-5.25,"y":6.25,"v":0.15},{"x":-5.75,"y":6.25,"v":0.16},{"x":-6.25,"y":6.25,"v":0.14},{"x":-6.75,"y":6.25,"v":0.1},{"x":-7.25,"y":6.25,"v":0.075},{"x":-7.75,"y":6.25,"v":0.066},{"x":-6.25,"y":5.75,"v":0.09},{"x":-6.75,"y":5.75,"v":0.075},{"x":-7.25,"y":5.75,"v":0.066},{"x":-7.75,"y":5.75,"v":0.06},{"x":-6.25,"y":5.25,"v":0.012},{"x":-6.75,"y":5.25,"v":0.045},{"x":-7.25,"y":5.25,"v":0.055},{"x":-7.75,"y":5.25,"v":0.054},{"x":-6.25,"y":4.75,"v":0.004},{"x":-6.75,"y":4.75,"v":0.03},{"x":-7.25,"y":4.75,"v":0.047},{"x":-7.75,"y":4.75,"v":0.05},{"x":-6.25,"y":4.25,"v":0.001},{"x":-6.75,"y":4.25,"v":0.018},{"x":-7.25,"y":4.25,"v":0.035},{"x":-7.75,"y":4.25,"v":0.044},
{"x":4.25,"y":-8.75,"v":0.088},{"x":4.75,"y":-8.75,"v":0.09},{"x":5.25,"y":-8.75,"v":0.092},{"x":5.75,"y":-8.75,"v":0.094},{"x":6.25,"y":-8.75,"v":0.093},{"x":6.75,"y":-8.75,"v":0.09},{"x":7.25,"y":-8.75,"v":0.086},{"x":7.75,"y":-8.75,"v":0.081},{"x":4.25,"y":-8.25,"v":0.089},{"x":4.75,"y":-8.25,"v":0.092},{"x":5.25,"y":-8.25,"v":0.096},{"x":5.75,"y":-8.25,"v":0.098},{"x":6.25,"y":-8.25,"v":0.096},{"x":6.75,"y":-8.25,"v":0.092},{"x":7.25,"y":-8.25,"v":0.087},{"x":7.75,"y":-8.25,"v":0.081},{"x":4.25,"y":-7.75,"v":0.09},{"x":4.75,"y":-7.75,"v":0.095},{"x":5.25,"y":-7.75,"v":0.102},{"x":5.75,"y":-7.75,"v":0.107},{"x":6.25,"y":-7.75,"v":0.103},{"x":6.75,"y":-7.75,"v":0.096},{"x":7.25,"y":-7.75,"v":0.088},{"x":7.75,"y":-7.75,"v":0.08},{"x":4.25,"y":-7.25,"v":0.09},{"x":4.75,"y":-7.25,"v":0.098},{"x":5.25,"y":-7.25,"v":0.112},{"x":5.75,"y":-7.25,"v":0.122},{"x":6.25,"y":-7.25,"v":0.113},{"x":6.75,"y":-7.25,"v":0.1},{"x":7.25,"y":-7.25,"v":0.088},{"x":7.75,"y":-7.25,"v":0.077},{"x":4.25,"y":-6.75,"v":0.088},{"x":4.75,"y":-6.75,"v":0.1},{"x":5.25,"y":-6.75,"v":0.128},{"x":5.75,"y":-6.75,"v":0.145},{"x":6.25,"y":-6.75,"v":0.128},{"x":6.75,"y":-6.75,"v":0.102},{"x":7.25,"y":-6.75,"v":0.082},{"x":7.75,"y":-6.75,"v":0.072},{"x":4.25,"y":-6.25,"v":0.07},{"x":4.75,"y":-6.25,"v":0.105},{"x":5.25,"y":-6.25,"v":0.15},{"x":5.75,"y":-6.25,"v":0.16},{"x":6.25,"y":-6.25,"v":0.14},{"x":6.75,"y":-6.25,"v":0.1},{"x":7.25,"y":-6.25,"v":0.075},{"x":7.75,"y":-6.25,"v":0.066},{"x":6.25,"y":-5.75,"v":0.09},{"x":6.75,"y":-5.75,"v":0.075},{"x":7.25,"y":-5.75,"v":0.066},{"x":7.75,"y":-5.75,"v":0.06},{"x":6.25,"y":-5.25,"v":0.012},{"x":6.75,"y":-5.25,"v":0.045},{"x":7.25,"y":-5.25,"v":0.055},{"x":7.75,"y":-5.25,"v":0.054},{"x":6.25,"y":-4.75,"v":0.004},{"x":6.75,"y":-4.75,"v":0.03},{"x":7.25,"y":-4.75,"v":0.047},{"x":7.75,"y":-4.75,"v":0.05},{"x":6.25,"y":-4.25,"v":0.001},{"x":6.75,"y":-4.25,"v":0.018},{"x":7.25,"y":-4.25,"v":0.035},{"x":7.75,"y":-4.25,"v":0.044},
{"x":-4.25,"y":-8.75,"v":0.088},{"x":-4.75,"y":-8.75,"v":0.09},{"x":-5.25,"y":-8.75,"v":0.092},{"x":-5.75,"y":-8.75,"v":0.094},{"x":-6.25,"y":-8.75,"v":0.093},{"x":-6.75,"y":-8.75,"v":0.09},{"x":-7.25,"y":-8.75,"v":0.086},{"x":-7.75,"y":-8.75,"v":0.081},{"x":-4.25,"y":-8.25,"v":0.089},{"x":-4.75,"y":-8.25,"v":0.092},{"x":-5.25,"y":-8.25,"v":0.096},{"x":-5.75,"y":-8.25,"v":0.098},{"x":-6.25,"y":-8.25,"v":0.096},{"x":-6.75,"y":-8.25,"v":0.092},{"x":-7.25,"y":-8.25,"v":0.087},{"x":-7.75,"y":-8.25,"v":0.081},{"x":-4.25,"y":-7.75,"v":0.09},{"x":-4.75,"y":-7.75,"v":0.095},{"x":-5.25,"y":-7.75,"v":0.102},{"x":-5.75,"y":-7.75,"v":0.107},{"x":-6.25,"y":-7.75,"v":0.103},{"x":-6.75,"y":-7.75,"v":0.096},{"x":-7.25,"y":-7.75,"v":0.088},{"x":-7.75,"y":-7.75,"v":0.08},{"x":-4.25,"y":-7.25,"v":0.09},{"x":-4.75,"y":-7.25,"v":0.098},{"x":-5.25,"y":-7.25,"v":0.112},{"x":-5.75,"y":-7.25,"v":0.122},{"x":-6.25,"y":-7.25,"v":0.113},{"x":-6.75,"y":-7.25,"v":0.1},{"x":-7.25,"y":-7.25,"v":0.088},{"x":-7.75,"y":-7.25,"v":0.077},{"x":-4.25,"y":-6.75,"v":0.088},{"x":-4.75,"y":-6.75,"v":0.1},{"x":-5.25,"y":-6.75,"v":0.128},{"x":-5.75,"y":-6.75,"v":0.145},{"x":-6.25,"y":-6.75,"v":0.128},{"x":-6.75,"y":-6.75,"v":0.102},{"x":-7.25,"y":-6.75,"v":0.082},{"x":-7.75,"y":-6.75,"v":0.072},{"x":-4.25,"y":-6.25,"v":0.07},{"x":-4.75,"y":-6.25,"v":0.105},{"x":-5.25,"y":-6.25,"v":0.15},{"x":-5.75,"y":-6.25,"v":0.16},{"x":-6.25,"y":-6.25,"v":0.14},{"x":-6.75,"y":-6.25,"v":0.1},{"x":-7.25,"y":-6.25,"v":0.075},{"x":-7.75,"y":-6.25,"v":0.066},{"x":-6.25,"y":-5.75,"v":0.09},{"x":-6.75,"y":-5.75,"v":0.075},{"x":-7.25,"y":-5.75,"v":0.066},{"x":-7.75,"y":-5.75,"v":0.06},{"x":-6.25,"y":-5.25,"v":0.012},{"x":-6.75,"y":-5.25,"v":0.045},{"x":-7.25,"y":-5.25,"v":0.055},{"x":-7.75,"y":-5.25,"v":0.054},{"x":-6.25,"y":-4.75,"v":0.004},{"x":-6.75,"y":-4.75,"v":0.03},{"x":-7.25,"y":-4.75,"v":0.047},{"x":-7.75,"y":-4.75,"v":0.05},{"x":-6.25,"y":-4.25,"v":0.001},{"x":-6.75,"y":-4.25,"v":0.018},{"x":-7.25,"y":-4.25,"v":0.035},{"x":-7.75,"y":-4.25,"v":0.044}],
"c":[{"v":-0.002},{"v":0},{"v":0.002},{"v":0.004},{"v":0.006},{"v":0.008},{"v":0.01},{"v":0.012},{"v":0.014},{"v":0.016},{"v":0.018},{"v":0.02},{"v":0.022},{"v":0.024},{"v":0.026},{"v":0.028},{"v":0.03},{"v":0.032},{"v":0.034},{"v":0.036},{"v":0.038},{"v":0.04},{"v":0.042},{"v":0.044},{"v":0.046},{"v":0.048},{"v":0.05},{"v":0.052},{"v":0.054},{"v":0.056},{"v":0.058},{"v":0.06},{"v":0.062},{"v":0.064},{"v":0.066},{"v":0.068},{"v":0.07},{"v":0.072},{"v":0.074},{"v":0.076},{"v":0.078},{"v":0.08},{"v":0.082},{"v":0.084},{"v":0.086},{"v":0.088},{"v":0.09},{"v":0.092},{"v":0.094},{"v":0.096},{"v":0.098},{"v":0.1},{"v":0.102},{"v":0.104},{"v":0.106},{"v":0.108},{"v":0.11},{"v":0.112},{"v":0.114},{"v":0.116},{"v":0.118},{"v":0.12},{"v":0.122},{"v":0.124},{"v":0.126},{"v":0.128},{"v":0.13},{"v":0.132},{"v":0.134},{"v":0.136},{"v":0.138},{"v":0.14},{"v":0.142},{"v":0.144},{"v":0.146},{"v":0.148},{"v":0.15},{"v":0.152},{"v":0.154},{"v":0.156},{"v":0.158},{"v":0.16},{"v":0.162},{"v":0.164}]},
"hconcat":[{"width":1049,"height":1047,"layer":[
{"data":{"name":"b"},"mark":{"type":"rect","width":53,"height":53},"encoding":{"x":{"field":"x","type":"quantitative","scale":{"domain":[-20,20],"nice":false},"axis":{"values":[-20,-10,0,10,20],"title":"x₁/h","labelPadding":42,"titlePadding":20,"labelFlush":false,"zindex":1,"labelExpr":"''+datum.value"}},"y":{"field":"y","type":"quantitative","scale":{"domain":[-20,20],"nice":false},"axis":{"values":[-20,-15,-10,-5,0,5,10,15,20],"title":"x₂/h","labelPadding":31,"titlePadding":38,"labelFlush":false,"zindex":1,"labelExpr":"''+datum.value"}},"color":{"field":"v","type":"quantitative","legend":null,"scale":{"domain":[0,0.02667,0.05333,0.08,0.10667,0.13333,0.16],"range":["#ff0000","#ffff00","#00ff00","#00ffff","#0000ff","#ff00ff","#ff0000"],"clamp":true}}}},
{"data":{"name":"a"},"mark":{"type":"rect","width":27,"height":27},"encoding":{"x":{"field":"x","type":"quantitative"},"y":{"field":"y","type":"quantitative"},"color":{"field":"v","type":"quantitative"}}},
{"data":{"name":"d"},"mark":{"type":"rect","width":27,"height":7},"encoding":{"x":{"field":"x","type":"quantitative"},"y":{"field":"y","type":"quantitative"},"color":{"field":"v","type":"quantitative"}}},
{"data":{"name":"f"},"mark":{"type":"rect","width":14,"height":14},"encoding":{"x":{"field":"x","type":"quantitative"},"y":{"field":"y","type":"quantitative"},"color":{"field":"v","type":"quantitative"}}},
{"data":{"name":"r"},"mark":{"type":"point","filled":false,"stroke":"white","strokeWidth":260,"size":1713481,"opacity":1,"clip":true},"encoding":{"x":{"field":"x","type":"quantitative"},"y":{"field":"y","type":"quantitative"}}},
{"data":{"name":"g"},"mark":{"type":"rule","color":"#e0e0e0","strokeWidth":3},"encoding":{"x":{"field":"x","type":"quantitative"},"x2":{"field":"x2"},"y":{"field":"y","type":"quantitative"},"y2":{"field":"y2"}}},
{"data":{"name":"s"},"mark":{"type":"rect","fill":"white","stroke":"black","strokeWidth":2.5},"encoding":{"x":{"field":"x","type":"quantitative"},"x2":{"field":"x2"},"y":{"field":"y","type":"quantitative"},"y2":{"field":"y2"}}}]},
{"width":64,"height":1047,"layer":[{"data":{"name":"c"},"mark":{"type":"rect","height":13,"clip":true},"encoding":{"y":{"field":"v","type":"quantitative","scale":{"domain":[-0.0019,0.163],"nice":false},"axis":{"orient":"right","values":[0,0.02,0.04,0.06,0.08,0.1,0.12,0.14,0.16],"title":null,"domain":false,"labelPadding":30,"zindex":1,"labelExpr":"''+round(datum.value*100)/100"}},"color":{"field":"v","type":"quantitative","legend":null,"scale":{"domain":[0,0.02667,0.05333,0.08,0.10667,0.13333,0.16],"range":["#ff0000","#ffff00","#00ff00","#00ffff","#0000ff","#ff00ff","#ff0000"],"clamp":true}}}},{"data":{"name":"k"},"mark":{"type":"rect","fill":"transparent","stroke":"#262626","strokeWidth":3},"encoding":{"y":{"field":"v","type":"quantitative"},"y2":{"field":"v2"}}}]}]}
